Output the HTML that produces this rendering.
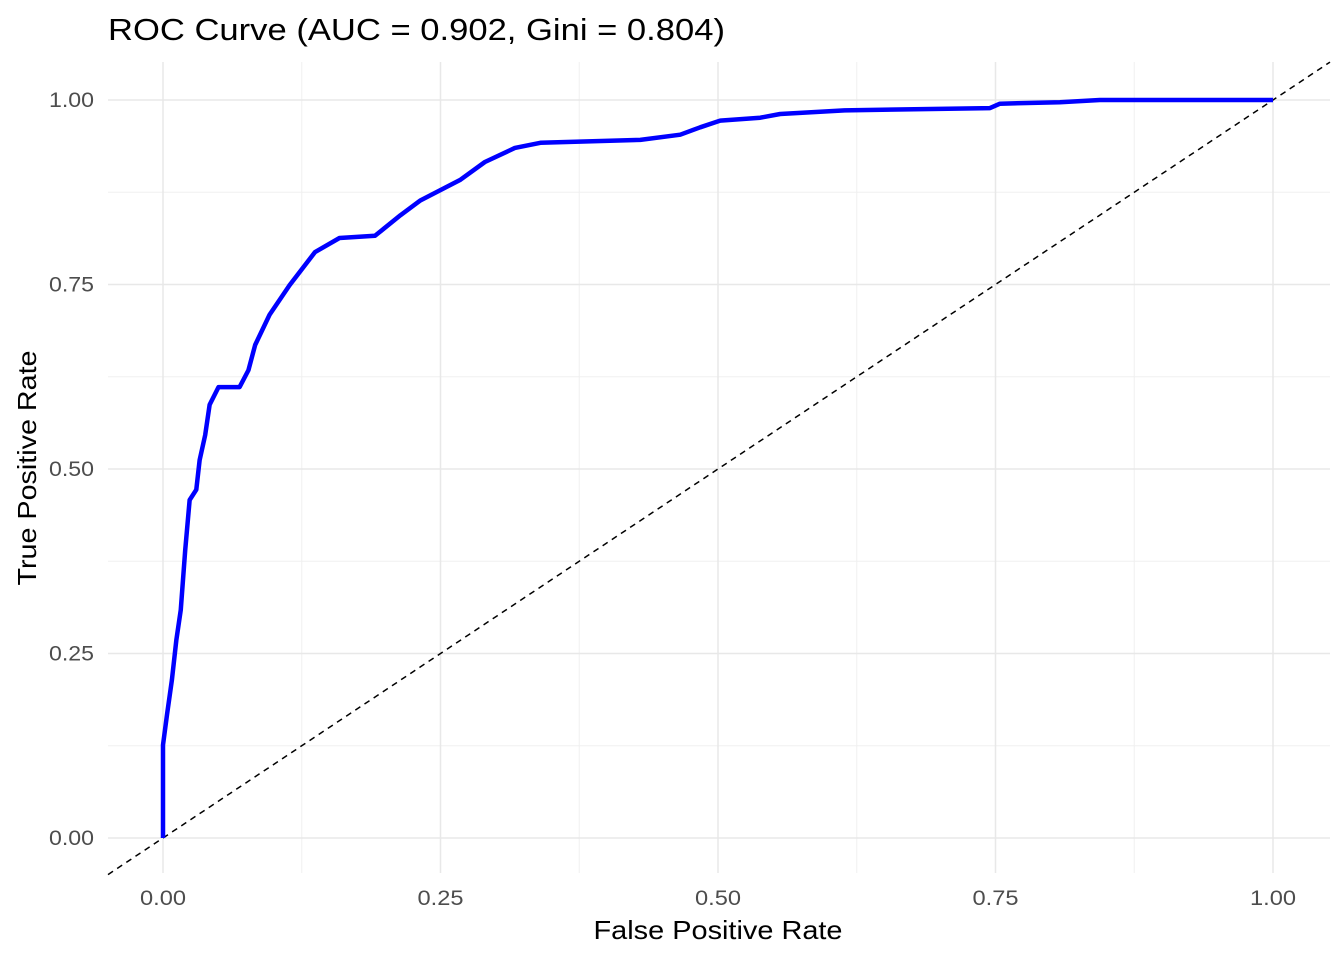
<!DOCTYPE html>
<html><head><meta charset="utf-8"><style>
body{margin:0;background:#fff;font-family:"Liberation Sans",sans-serif}
</style></head><body>
<svg id="chart" width="1344" height="960" xmlns="http://www.w3.org/2000/svg" font-family="Liberation Sans, sans-serif">
<text x="108" y="40" font-size="31" fill="#000" textLength="617" lengthAdjust="spacingAndGlyphs">ROC Curve (AUC = 0.902, Gini = 0.804)</text>
<g id="grid"></g>
<g id="ticks"></g>
<line id="diag" stroke="#000" stroke-width="1.5" stroke-dasharray="6,5"/>
<path id="roc" fill="none" stroke="#0000ff" stroke-width="4.5" stroke-linejoin="round"/>
<text x="718" y="939" font-size="26" text-anchor="middle" textLength="249" lengthAdjust="spacingAndGlyphs">False Positive Rate</text>
<text transform="translate(36,468) rotate(-90)" font-size="26" text-anchor="middle" textLength="235" lengthAdjust="spacingAndGlyphs">True Positive Rate</text>
</svg>
<script>
const fpr=[0,0,0.0036,0.008,0.012,0.016,0.020,0.024,0.030,0.033,0.038,0.042,0.050,0.069,0.077,0.083,0.096,0.114,0.137,0.159,0.191,0.214,0.232,0.268,0.290,0.317,0.340,0.430,0.466,0.484,0.502,0.538,0.556,0.614,0.745,0.754,0.808,0.844,1];
const tpr=[0,0.126,0.167,0.214,0.268,0.309,0.390,0.458,0.472,0.512,0.546,0.587,0.611,0.611,0.634,0.668,0.709,0.749,0.794,0.813,0.816,0.844,0.864,0.892,0.916,0.935,0.942,0.946,0.953,0.963,0.972,0.976,0.981,0.986,0.989,0.995,0.997,1,1];
const ticks=[0,0.25,0.5,0.75,1];
const tickLabels=["0.00","0.25","0.50","0.75","1.00"];
const X0=163,X1=1273,Y0=838,Y1=100,L=108,R=1330,T=62,B=873;
const sx=v=>X0+v*(X1-X0), sy=v=>Y0-v*(Y0-Y1);
const ns="http://www.w3.org/2000/svg";
const grid=document.getElementById('grid'),tk=document.getElementById('ticks');
function line(p,x1,y1,x2,y2,c,w){const l=document.createElementNS(ns,'line');l.setAttribute('x1',x1);l.setAttribute('y1',y1);l.setAttribute('x2',x2);l.setAttribute('y2',y2);l.setAttribute('stroke',c);l.setAttribute('stroke-width',w);


p.appendChild(l);}
for(let i=0;i<ticks.length-1;i++){const m=(ticks[i]+ticks[i+1])/2;line(grid,sx(m),T,sx(m),B,'#f0f0f0',1);line(grid,L,sy(m),R,sy(m),'#f0f0f0',1);}
ticks.forEach((t,i)=>{line(grid,sx(t),T,sx(t),B,'#e8e8e8',1.5);line(grid,L,sy(t),R,sy(t),'#e8e8e8',1.5);
const a=document.createElementNS(ns,'text');a.setAttribute('x',sx(t));a.setAttribute('y',905);a.setAttribute('text-anchor','middle');a.setAttribute('font-size','21');a.setAttribute('fill','#4d4d4d');a.setAttribute('textLength','46');a.setAttribute('lengthAdjust','spacingAndGlyphs');a.textContent=tickLabels[i];


tk.appendChild(a);
const b=document.createElementNS(ns,'text');b.setAttribute('x',94);b.setAttribute('y',sy(t)+7);b.setAttribute('text-anchor','end');b.setAttribute('font-size','21');b.setAttribute('fill','#4d4d4d');b.setAttribute('textLength','45');b.setAttribute('lengthAdjust','spacingAndGlyphs');b.textContent=tickLabels[i];


tk.appendChild(b);});
const d=document.getElementById('diag');
const vl=(L-X0)/(X1-X0),vr=(R-X0)/(X1-X0);
d.setAttribute('x1',sx(vl));d.setAttribute('y1',sy(vl));d.setAttribute('x2',sx(vr));d.setAttribute('y2',sy(vr));
document.getElementById('roc').setAttribute('d',fpr.map((v,i)=>(i?'L':'M')+sx(v)+','+sy(tpr[i])).join(''));
</script>
</body></html>
